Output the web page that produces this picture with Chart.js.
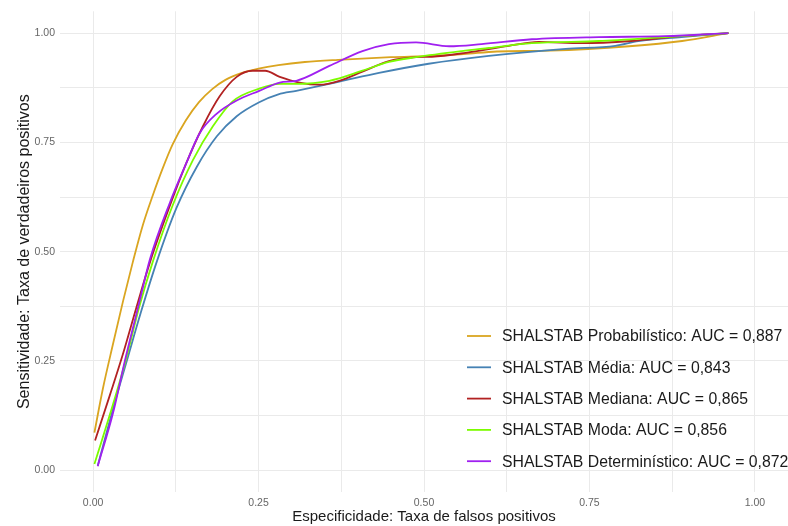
<!DOCTYPE html>
<html>
<head>
<meta charset="utf-8">
<script src="https://cdn.jsdelivr.net/npm/chart.js@4"></script>
<style>
  html, body { margin: 0; padding: 0; background: #fff; }
  #wrap { width: 788px; height: 526px; }
</style>
</head>
<body>
<div id="wrap"><canvas id="grafico"></canvas></div>
<script>
// Curvas ROC (leitura aproximada do gráfico)
const series = ['SHALSTAB Probabilístico', 'SHALSTAB Média', 'SHALSTAB Mediana', 'SHALSTAB Moda', 'SHALSTAB Determinístico'];
const auc = ['0,887', '0,843', '0,865', '0,856', '0,872'];
const colors = ['#DAA520', '#4682B4', '#B22222', '#7CFC00', '#A020F0'];

const probX = [0.002, 0.015, 0.03, 0.045, 0.06, 0.075, 0.09, 0.105, 0.12, 0.14, 0.16, 0.18, 0.20, 0.225, 0.25, 0.28, 0.32, 0.37, 0.45, 0.51, 0.56, 0.61, 0.69, 0.81, 0.89, 0.96];
const probY = [0.086, 0.188, 0.288, 0.385, 0.476, 0.56, 0.628, 0.69, 0.745, 0.80, 0.842, 0.872, 0.893, 0.909, 0.919, 0.927, 0.934, 0.939, 0.945, 0.948, 0.952, 0.958, 0.960, 0.970, 0.982, 1.0];

const mediaX = [0.007, 0.03, 0.05, 0.072, 0.096, 0.126, 0.157, 0.187, 0.217, 0.251, 0.28, 0.307, 0.372, 0.432, 0.507, 0.598, 0.714, 0.789, 0.824, 0.889, 0.96];
const mediaY = [0.01, 0.14, 0.245, 0.36, 0.476, 0.6, 0.695, 0.764, 0.81, 0.842, 0.860, 0.868, 0.889, 0.909, 0.93, 0.948, 0.964, 0.971, 0.982, 0.991, 1.0];

const medianaX = [0.003, 0.025, 0.045, 0.065, 0.086, 0.116, 0.141, 0.166, 0.191, 0.217, 0.241, 0.26, 0.282, 0.312, 0.342, 0.372, 0.407, 0.447, 0.488, 0.512, 0.563, 0.628, 0.673, 0.738, 0.813, 0.889, 0.96];
const medianaY = [0.068, 0.17, 0.265, 0.37, 0.476, 0.605, 0.703, 0.787, 0.855, 0.9, 0.914, 0.914, 0.9, 0.887, 0.882, 0.891, 0.912, 0.936, 0.945, 0.946, 0.955, 0.971, 0.98, 0.977, 0.982, 0.993, 1.0];

const modaX = [0.002, 0.03, 0.049, 0.07, 0.09, 0.12, 0.151, 0.181, 0.211, 0.251, 0.282, 0.307, 0.357, 0.407, 0.447, 0.488, 0.557, 0.598, 0.663, 0.764, 0.864, 0.96];
const modaY = [0.014, 0.15, 0.25, 0.375, 0.476, 0.605, 0.71, 0.787, 0.844, 0.873, 0.884, 0.884, 0.891, 0.914, 0.934, 0.945, 0.959, 0.966, 0.977, 0.982, 0.991, 1.0];

const detX = [0.007, 0.03, 0.048, 0.07, 0.086, 0.116, 0.141, 0.161, 0.187, 0.217, 0.251, 0.282, 0.307, 0.357, 0.407, 0.447, 0.488, 0.538, 0.587, 0.663, 0.764, 0.864, 0.96];
const detY = [0.009, 0.13, 0.25, 0.385, 0.483, 0.612, 0.703, 0.771, 0.816, 0.846, 0.868, 0.887, 0.891, 0.925, 0.959, 0.975, 0.979, 0.970, 0.975, 0.986, 0.991, 0.993, 1.0];

const tickValues = [0, 0.125, 0.25, 0.375, 0.5, 0.625, 0.75, 0.875, 1];
const tickLabels = ['0.00', '', '0.25', '', '0.50', '', '0.75', '', '1.00'];

const allX = [probX, mediaX, medianaX, modaX, detX];
const allY = [probY, mediaY, medianaY, modaY, detY];

const datasets = series.map((nome, i) => ({
    label: nome + ': AUC = ' + auc[i],
    data: allX[i].map((x, j) => ({x: x, y: allY[i][j]})),
    borderColor: colors[i],
    backgroundColor: colors[i],
    borderWidth: 1.8,
    pointRadius: 0,
    cubicInterpolationMode: 'monotone',
    order: series.length - i
}));

// legenda dentro do painel, canto inferior direito
const legendaInterna = {
    id: 'legendaInterna',
    afterDraw(chart) {
        const ctx = chart.ctx;
        ctx.save();
        ctx.font = '15.8px "Liberation Sans", Arial, sans-serif';
        ctx.textBaseline = 'middle';
        chart.data.datasets.forEach((ds, i) => {
            const y = 336 + i * 31.3;
            ctx.strokeStyle = ds.borderColor;
            ctx.lineWidth = 1.8;
            ctx.beginPath();
            ctx.moveTo(467, y);
            ctx.lineTo(491, y);
            ctx.stroke();
            ctx.fillStyle = '#1a1a1a';
            ctx.fillText(ds.label, 502, y + 1);
        });
        ctx.restore();
    }
};

const grid = { color: '#EAEAEA', lineWidth: 1, drawTicks: false };
const tickFont = { family: '"Liberation Sans", Arial, sans-serif', size: 10.5 };

new Chart(document.getElementById('grafico'), {
    type: 'line',
    data: { datasets: datasets },
    plugins: [legendaInterna],
    options: {
        responsive: true,
        maintainAspectRatio: false,
        animation: false,
        layout: { padding: { top: 7, right: 0, left: 0, bottom: 0 } },
        plugins: { legend: { display: false }, tooltip: { enabled: false } },
        scales: {
            x: {
                type: 'linear',
                min: -0.05,
                max: 1.05,
                grid: grid,
                border: { display: false },
                afterBuildTicks: s => { s.ticks = tickValues.map(v => ({value: v})); },
                afterFit: s => { s.height = 34; },
                ticks: {
                    autoSkip: false, maxRotation: 0, padding: 5,
                    color: '#666', font: tickFont,
                    callback: (v, i) => tickLabels[i]
                },
                title: {
                    display: true,
                    text: 'Especificidade: Taxa de falsos positivos',
                    color: '#1a1a1a',
                    font: { family: '"Liberation Sans", Arial, sans-serif', size: 15 },
                    padding: { top: 0, bottom: 0 }
                }
            },
            y: {
                min: -0.05,
                max: 1.05,
                grid: grid,
                border: { display: false },
                afterBuildTicks: s => { s.ticks = tickValues.map(v => ({value: v})); },
                afterFit: s => { s.width = 60; },
                ticks: {
                    autoSkip: false, padding: 5,
                    color: '#666', font: tickFont,
                    callback: (v, i) => tickLabels[i]
                },
                title: {
                    display: true,
                    text: 'Sensitividade: Taxa de verdadeiros positivos',
                    color: '#1a1a1a',
                    font: { family: '"Liberation Sans", Arial, sans-serif', size: 16 },
                    padding: { top: 15, bottom: 0 }
                }
            }
        }
    }
});
</script>
</body>
</html>
